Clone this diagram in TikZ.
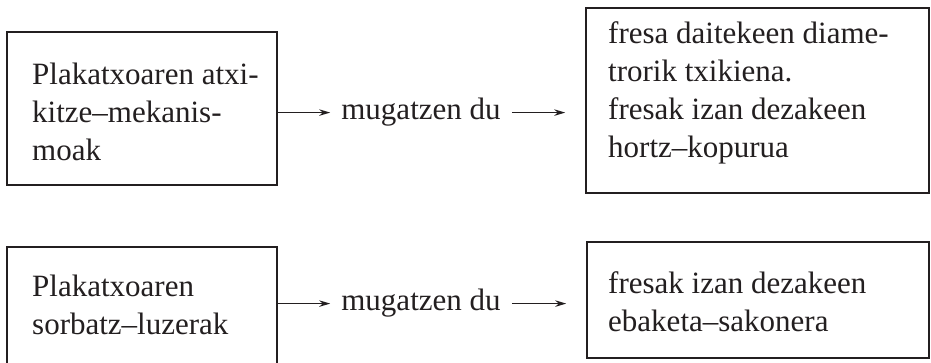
\documentclass[tikz,border=0pt]{standalone}
\usepackage{fontspec}
\setmainfont{Liberation Serif}
\usetikzlibrary{arrows.meta}
\definecolor{ink}{RGB}{35,31,32}
\tikzset{
  box/.style={draw=ink, line width=1.6pt, rectangle, inner sep=0pt},
  % multi-line texts are placed by the baseline of their last line
  txt/.style={text=ink, align=left, inner sep=0pt, anchor=base west,
              font=\fontsize{31}{38}\selectfont},
  verb/.style={text=ink, inner sep=0pt, anchor=base,
               font=\fontsize{31}{38}\selectfont},
  link/.style={draw=ink, line width=1.4pt, -{Stealth[length=11pt,width=6.5pt]}}
}
\begin{document}
\begin{tikzpicture}[x=1pt,y=1pt]
\useasboundingbox (0,0) rectangle (931,363);
\fill[white] (0,0) rectangle (931,363);

% boxes
\node[box, minimum width=270pt, minimum height=153pt] (b1) at (142,254.5) {};
\node[box, minimum width=343pt, minimum height=185pt] (b2) at (757.5,262.5) {};
\node[box, minimum width=270pt, minimum height=120pt] (b3) at (142,56) {};
\node[box, minimum width=342pt, minimum height=116pt] (b4) at (758,63) {};

% box texts
\node[txt] (t1) at (32,202) {Plakatxoaren atxi-\\kitze--mekanis-\\moak};
\node[txt] (t2) at (608,205) {fresa daitekeen diame-\\trorik txikiena.\\fresak izan dezakeen\\hortz--kopurua};
\node[txt] (t3) at (32,28) {Plakatxoaren\\sorbatz--luzerak};
\node[txt] (t4) at (608,31) {fresak izan dezakeen\\ebaketa--sakonera};

% relation labels
\node[verb] (m1) at (421,243) {mugatzen du};
\node[verb] (m2) at (421,52) {mugatzen du};

% connectors
\draw[link, shorten >=11pt] (b1.east |- m1.west) -- (m1.west);
\draw[link, shorten <=11pt, shorten >=20pt] (m1.east) -- (m1.east -| b2.west);
\draw[link, shorten >=11pt] (b3.east |- m2.west) -- (m2.west);
\draw[link, shorten <=11pt, shorten >=20pt] (m2.east) -- (m2.east -| b4.west);
\end{tikzpicture}
\end{document}
